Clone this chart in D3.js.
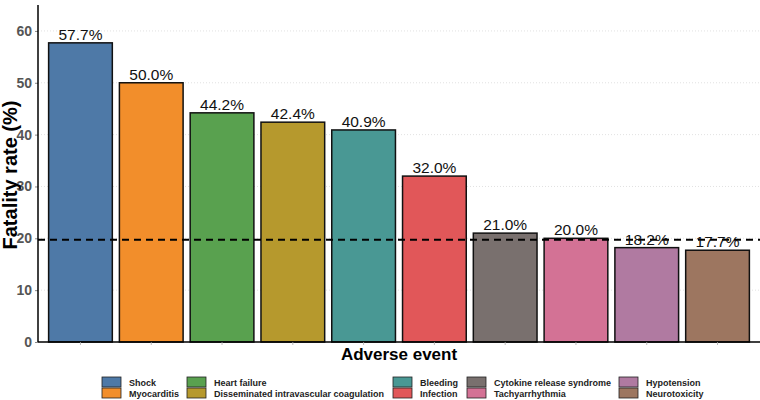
<!DOCTYPE html>
<html><head><meta charset="utf-8">
<script src="https://cdn.jsdelivr.net/npm/d3@7"></script>
<style>body{margin:0;background:#fff}svg{display:block}text{font-family:"Liberation Sans",Arial,sans-serif}</style>
</head><body><svg id="c" width="760" height="400"></svg>
<script>
const categories = ["Shock","Myocarditis","Heart failure","Disseminated intravascular coagulation","Bleeding","Infection","Cytokine release syndrome","Tachyarrhythmia","Hypotension","Neurotoxicity"];
const values = [57.7,50.0,44.2,42.4,40.9,32.0,21.0,20.0,18.2,17.7];
const colors = ["#4e79a7","#f28e2b","#59a14f","#b6992d","#499894","#e15759","#79706e","#d37295","#b07aa1","#9d7660"];
const yTicks = [0,10,20,30,40,50,60];
const meanLine = 19.7;

const svg = d3.select("#c");
const L = 38, R = 760, T = 5, B = 342;
// ggplot-like band layout: bars 0.9 unit wide, 0.6 unit expansion at each side
const x = d3.scaleBand().domain(categories).range([L,R]).paddingInner(0.1).paddingOuter(0.15);
const xc = d => x(d) + x.bandwidth()/2;
const bw = x.bandwidth();
const y = d3.scaleLinear().domain([0,65]).range([B,T]);

// grid
svg.append("g").selectAll("line").data(yTicks.filter(d=>d>0)).join("line")
  .attr("x1",L).attr("x2",R).attr("y1",d=>y(d)).attr("y2",d=>y(d))
  .attr("stroke","#d9d9d9").attr("stroke-width",0.8).attr("stroke-dasharray","1,2");

// bars
svg.append("g").selectAll("rect").data(categories).join("rect")
  .attr("x",d=>x(d)).attr("width",bw)
  .attr("y",(d,i)=>y(values[i])).attr("height",(d,i)=>B-y(values[i]))
  .attr("fill",(d,i)=>colors[i]).attr("stroke","#111").attr("stroke-width",1.5);

// mean line
svg.append("line").attr("x1",L).attr("x2",R).attr("y1",y(meanLine)).attr("y2",y(meanLine))
  .attr("stroke","#000").attr("stroke-width",2).attr("stroke-dasharray","7,5");

// value labels
svg.append("g").selectAll("text").data(categories).join("text")
  .attr("x",d=>xc(d)).attr("y",(d,i)=>y(values[i])-3)
  .attr("text-anchor","middle").attr("font-size",15.5).attr("fill","#111")
  .text((d,i)=>values[i].toFixed(1)+"%");

// axes
const yAxis = d3.axisLeft(y).tickValues(yTicks).tickSize(3).tickPadding(3);
const gy = svg.append("g").attr("transform",`translate(${L},0)`).call(yAxis);
gy.select(".domain").remove();
gy.selectAll(".tick line").attr("stroke","#888");
gy.selectAll(".tick text").attr("font-size",14).attr("font-weight","bold").attr("fill","#555")
  .style("font-family","'Liberation Sans',Arial,sans-serif");
svg.append("line").attr("x1",L).attr("x2",L).attr("y1",T).attr("y2",B).attr("stroke","#000").attr("stroke-width",1.5);
svg.append("line").attr("x1",L).attr("x2",R).attr("y1",B).attr("y2",B).attr("stroke","#000").attr("stroke-width",1.5);
svg.append("g").selectAll("line").data(categories).join("line")
  .attr("x1",d=>xc(d)).attr("x2",d=>xc(d)).attr("y1",B).attr("y2",B+3).attr("stroke","#aaa").attr("stroke-width",0.8);

// titles
svg.append("text").attr("x",(L+R)/2).attr("y",360).attr("text-anchor","middle")
  .attr("font-size",17).attr("font-weight","bold").text("Adverse event");
svg.append("text").attr("transform",`translate(17,175) rotate(-90)`).attr("text-anchor","middle")
  .attr("font-size",20).attr("font-weight","bold").text("Fatality rate (%)");

// legend
const colX = [102,187,393,467,619];
const rowY = [377,388];
const lg = svg.append("g");
categories.forEach((c,i)=>{
  const col = Math.floor(i/2), row = i%2;
  lg.append("rect").attr("x",colX[col]).attr("y",rowY[row]).attr("width",19).attr("height",10)
    .attr("fill",colors[i]).attr("stroke","#222").attr("stroke-width",0.8);
  lg.append("text").attr("x",colX[col]+27).attr("y",rowY[row]+8.5).attr("font-size",9)
    .attr("font-weight","bold").attr("fill","#222").text(c);
});
</script></body></html>
